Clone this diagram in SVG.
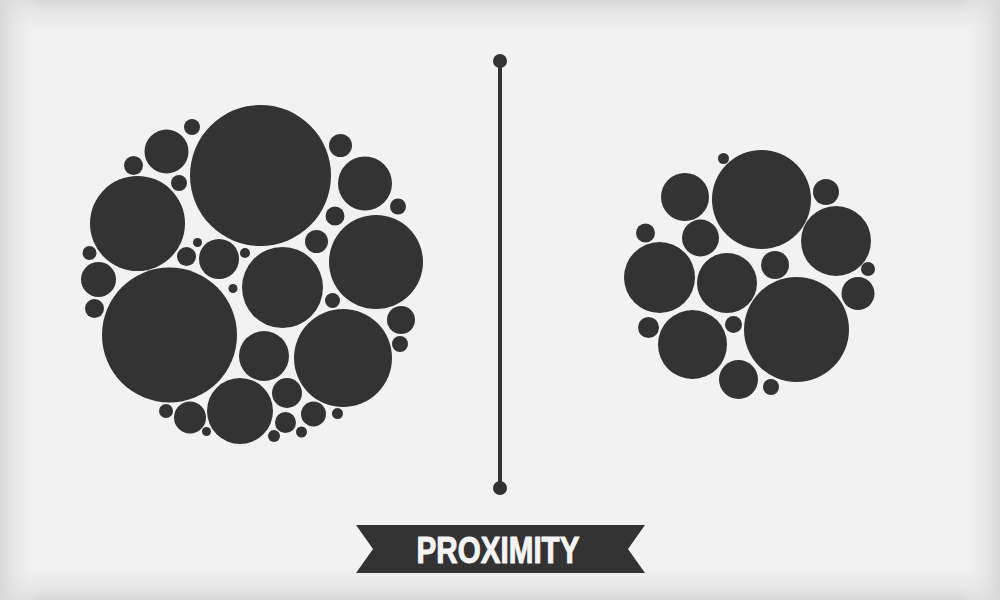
<svg xmlns="http://www.w3.org/2000/svg" width="1000" height="600" viewBox="0 0 1000 600">
<defs>
<style>
.d{fill:#333333}
.lbl{font-family:"Liberation Sans Narrow","Liberation Sans",Arial,sans-serif;font-weight:bold;font-size:36px;fill:#f4f4f4;stroke:#f4f4f4;stroke-width:1;stroke-linejoin:round}
</style>
<linearGradient id="gT" x1="0" y1="0" x2="0" y2="1"><stop offset="0" stop-color="#d8d8d8"/><stop offset="1" stop-color="#f2f2f2" stop-opacity="0"/></linearGradient>
<linearGradient id="gB" x1="0" y1="1" x2="0" y2="0"><stop offset="0" stop-color="#d8d8d8"/><stop offset="1" stop-color="#f2f2f2" stop-opacity="0"/></linearGradient>
<linearGradient id="gL" x1="0" y1="0" x2="1" y2="0"><stop offset="0" stop-color="#d8d8d8"/><stop offset="1" stop-color="#f2f2f2" stop-opacity="0"/></linearGradient>
<linearGradient id="gR" x1="1" y1="0" x2="0" y2="0"><stop offset="0" stop-color="#d8d8d8"/><stop offset="1" stop-color="#f2f2f2" stop-opacity="0"/></linearGradient>
</defs>
<g id="background">
<rect width="1000" height="600" fill="#f2f2f2"/>
<rect width="1000" height="40" fill="url(#gT)"/>
<rect y="560" width="1000" height="40" fill="url(#gB)"/>
<rect width="40" height="600" fill="url(#gL)"/>
<rect x="960" width="40" height="600" fill="url(#gR)"/>
</g>
<g id="left-cluster" class="d">
<circle cx="260.5" cy="175.5" r="70.5"/>
<circle cx="166.5" cy="151.5" r="22"/>
<circle cx="192" cy="127" r="8"/>
<circle cx="133.5" cy="165.5" r="9.5"/>
<circle cx="179" cy="183" r="8"/>
<circle cx="137.5" cy="223.5" r="47.5"/>
<circle cx="89.5" cy="253" r="7"/>
<circle cx="186.5" cy="256.5" r="9.5"/>
<circle cx="197.5" cy="242.5" r="4.5"/>
<circle cx="219" cy="259" r="20"/>
<circle cx="245" cy="253" r="5"/>
<circle cx="98.5" cy="279.5" r="17.5"/>
<circle cx="94.5" cy="308.5" r="9.5"/>
<circle cx="169.5" cy="335" r="67.5"/>
<circle cx="166" cy="411" r="7"/>
<circle cx="190" cy="417.5" r="16"/>
<circle cx="206.5" cy="431.5" r="4.5"/>
<circle cx="233" cy="288.5" r="4.5"/>
<circle cx="282.5" cy="287.5" r="40.5"/>
<circle cx="376" cy="262" r="47"/>
<circle cx="365" cy="183.5" r="27"/>
<circle cx="340.5" cy="145.5" r="11.5"/>
<circle cx="398" cy="206.5" r="8"/>
<circle cx="335" cy="216" r="9.5"/>
<circle cx="316.5" cy="241.5" r="11.5"/>
<circle cx="332.5" cy="300.5" r="7.5"/>
<circle cx="343" cy="358" r="49"/>
<circle cx="401" cy="320" r="14"/>
<circle cx="400" cy="344" r="8"/>
<circle cx="264" cy="356" r="25"/>
<circle cx="240" cy="411" r="33"/>
<circle cx="287" cy="393" r="15"/>
<circle cx="285.5" cy="422.5" r="10.5"/>
<circle cx="313.5" cy="414" r="12.5"/>
<circle cx="301.5" cy="432" r="5.5"/>
<circle cx="274" cy="436" r="6"/>
<circle cx="337.5" cy="413.5" r="5.5"/>
</g>
<g id="divider" class="d">
<rect x="498" y="61" width="4" height="427"/>
<circle cx="500" cy="61" r="7"/>
<circle cx="500" cy="488" r="7"/>
</g>
<g id="right-cluster" class="d">
<circle cx="761.5" cy="199.5" r="49.5"/>
<circle cx="723.5" cy="158.5" r="5.5"/>
<circle cx="685" cy="197" r="24"/>
<circle cx="700.5" cy="238" r="18.5"/>
<circle cx="645.5" cy="233" r="9.5"/>
<circle cx="826" cy="192" r="13"/>
<circle cx="836" cy="241" r="35"/>
<circle cx="868" cy="269" r="7"/>
<circle cx="858" cy="293.5" r="16.5"/>
<circle cx="775" cy="265" r="14"/>
<circle cx="796.5" cy="329.5" r="52.5"/>
<circle cx="659.5" cy="277.5" r="35.5"/>
<circle cx="727" cy="283" r="30"/>
<circle cx="692.5" cy="344.5" r="34.5"/>
<circle cx="648.5" cy="327.5" r="10.5"/>
<circle cx="733.5" cy="324.5" r="8.5"/>
<circle cx="738.5" cy="379.5" r="19.5"/>
<circle cx="771" cy="387" r="8"/>
</g>
<g id="banner">
<polygon class="d" points="356,525 645,525 628,549 645,573 356,573 373,549"/>
<text class="lbl" x="498" y="563" text-anchor="middle" textLength="163" lengthAdjust="spacingAndGlyphs">PROXIMITY</text>
</g>
</svg>
